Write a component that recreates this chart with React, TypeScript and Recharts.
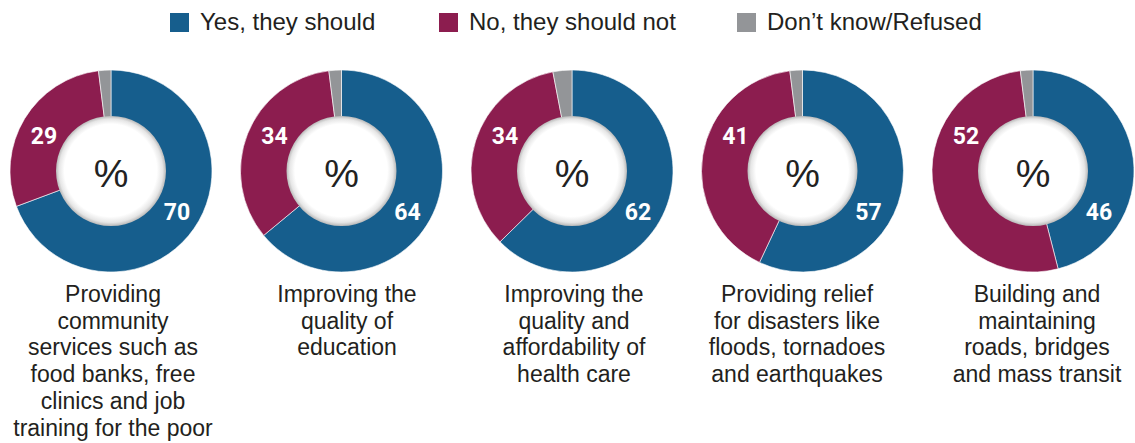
import { PieChart, Pie, Cell } from 'recharts';

const categories = [
  ['Providing', 'community', 'services such as', 'food banks, free', 'clinics and job', 'training for the poor'],
  ['Improving the', 'quality of', 'education'],
  ['Improving the', 'quality and', 'affordability of', 'health care'],
  ['Providing relief', 'for disasters like', 'floods, tornadoes', 'and earthquakes'],
  ['Building and', 'maintaining', 'roads, bridges', 'and mass transit'],
];
const yesValues = [70, 64, 62, 57, 46];
const noValues = [29, 34, 34, 41, 52];
const dkValues = [2, 2, 3, 2, 2];
const seriesNames = ['Yes, they should', 'No, they should not', 'Don\u2019t know/Refused'];
const seriesColors = ['#165e8d', '#8c1d4f', '#939598'];

const W = 1135;
const H = 443;
const CY = 171;
const centers = [111, 341.5, 572, 802.5, 1033];
const labelCenters = [113, 347, 574, 797, 1037];
const legendX = [170, 439, 737];
const FONT = '"Liberation Sans", Arial, sans-serif';

const renderValueLabel = (props: any) => {
  const { cx, cy, value, kind } = props;
  if (kind === 'yes') {
    return (
      <text x={cx + 66} y={cy + 41} textAnchor="middle" dominantBaseline="central"
        fill="#fff" fontWeight="bold" fontSize={23} fontFamily="Roboto, sans-serif">
        {value}
      </text>
    );
  }
  if (kind === 'no') {
    return (
      <text x={cx - 67} y={cy - 35} textAnchor="middle" dominantBaseline="central"
        fill="#fff" fontWeight="bold" fontSize={23} fontFamily="Roboto, sans-serif">
        {value}
      </text>
    );
  }
  return null;
};

const renderPercent = (props: any) => (
  <text x={props.cx} y={props.cy + 2} textAnchor="middle" dominantBaseline="central"
    fill="#222" fontSize={39} fontFamily={FONT}>
    %
  </text>
);

export default function App() {
  return (
    <div style={{ position: 'absolute', left: 0, top: 0, width: W, height: H, background: '#fff', fontFamily: FONT, color: '#231f20' }}>
      {seriesNames.map((name, i) => (
        <div key={name} style={{ position: 'absolute', left: legendX[i], top: 10, display: 'flex', alignItems: 'center', height: 24 }}>
          <div style={{ width: 19, height: 19, background: seriesColors[i], marginRight: 11 }} />
          <span style={{ fontSize: 24, lineHeight: '24px', whiteSpace: 'nowrap' }}>{name}</span>
        </div>
      ))}

      <div style={{ position: 'absolute', left: 0, top: 0 }}>
        <PieChart width={W} height={H} margin={{ top: 0, right: 0, bottom: 0, left: 0 }}>
          <defs>
            <radialGradient id="hole" cx="50%" cy="50%" r="50%" fx="48%" fy="46%">
              <stop offset="0%" stopColor="#ffffff" />
              <stop offset="84%" stopColor="#ffffff" />
              <stop offset="94%" stopColor="#e6e6e6" />
              <stop offset="100%" stopColor="#b9b9b9" />
            </radialGradient>
          </defs>
          {centers.map((cx, i) => {
            const data = [
              { kind: 'yes', value: yesValues[i] },
              { kind: 'no', value: noValues[i] },
              { kind: 'dk', value: dkValues[i] },
            ];
            return (
              <Pie
                key={`ring${i}`}
                data={data}
                dataKey="value"
                cx={cx}
                cy={CY}
                innerRadius={50}
                outerRadius={101}
                startAngle={90}
                endAngle={-270}
                stroke="#ffffff"
                strokeWidth={0.6}
                label={renderValueLabel}
                labelLine={false}
                isAnimationActive={false}
              >
                {data.map((d, j) => (
                  <Cell key={d.kind} fill={seriesColors[j]} />
                ))}
              </Pie>
            );
          })}
          {centers.map((cx, i) => (
            <Pie
              key={`hole${i}`}
              data={[{ kind: 'hole', value: 1 }]}
              dataKey="value"
              cx={cx}
              cy={CY}
              innerRadius={0}
              outerRadius={55}
              stroke="none"
              fill="url(#hole)"
              label={renderPercent}
              labelLine={false}
              isAnimationActive={false}
            />
          ))}
        </PieChart>
      </div>

      {categories.map((lines, i) => (
        <div key={i} style={{ position: 'absolute', left: labelCenters[i] - 120, top: 281, width: 240, textAlign: 'center', fontSize: 23, lineHeight: '26.7px', whiteSpace: 'nowrap' }}>
          {lines.map((l) => (
            <div key={l}>{l}</div>
          ))}
        </div>
      ))}
    </div>
  );
}
